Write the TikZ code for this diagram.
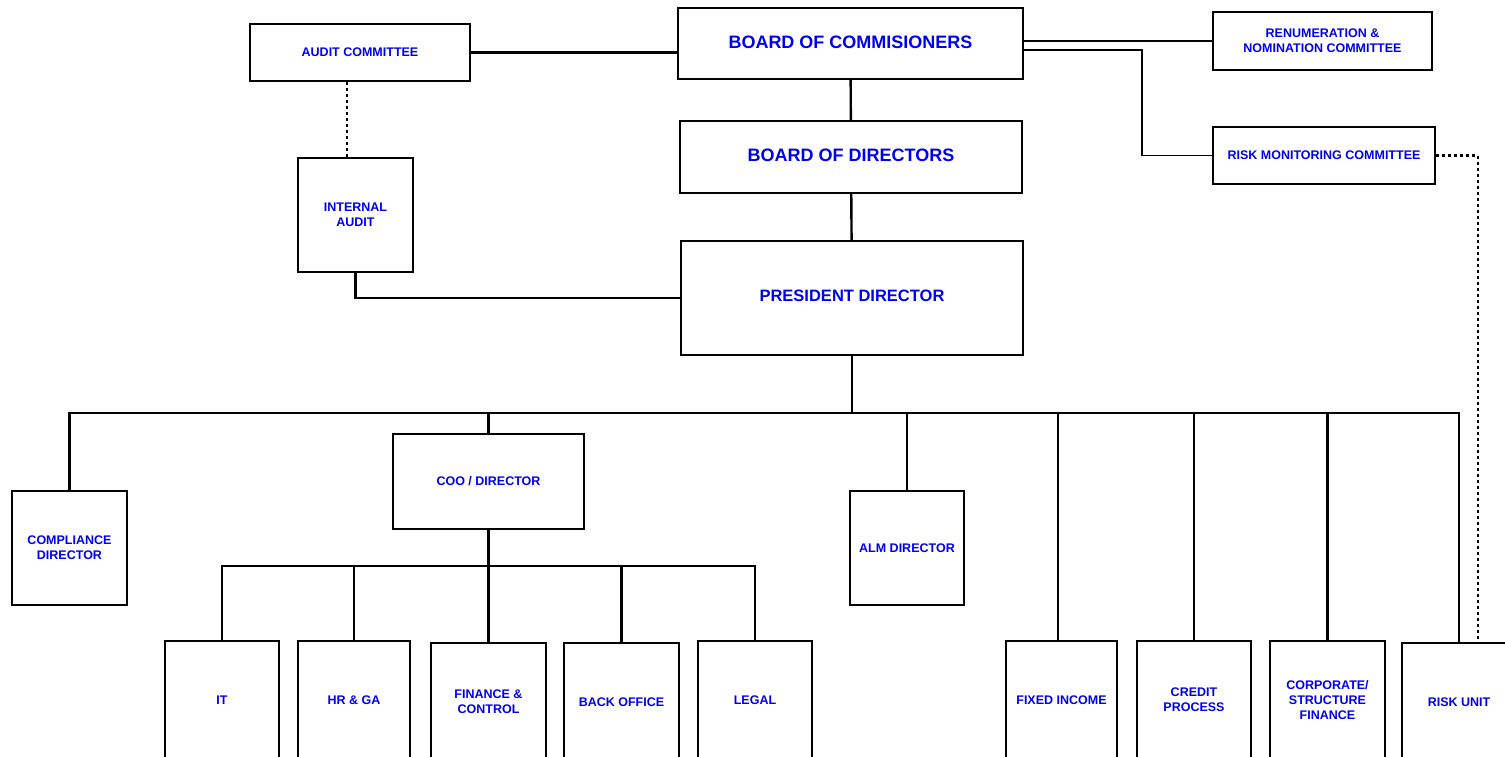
\documentclass[tikz,border=0pt]{standalone}
\usepackage{fontspec}
\setmainfont{Liberation Sans}
\usepackage{xcolor}
\usetikzlibrary{positioning}
\definecolor{orgblue}{RGB}{0,0,240}

\tikzset{
  orgbox/.style={draw, line width=2.4pt, inner sep=0pt, align=center, text=orgblue,
    font=\bfseries\fontsize{12.5}{15}\selectfont},
  bigbox/.style={orgbox, font=\bfseries\fontsize{18}{21}\selectfont},
  unitbox/.style={orgbox, minimum width=114, minimum height=118},
  link/.style={line width=2.4pt},
  thinlink/.style={line width=1.5pt},
  dotlink/.style={line width=2.4pt, dash pattern=on 3pt off 3pt}
}

\begin{document}
\begin{tikzpicture}[x=1pt,y=-1pt]
\useasboundingbox (0,0) rectangle (1505,756);
\clip (0,0) rectangle (1505,756);

% top board and committees
\node[bigbox, minimum width=345, minimum height=71] (boc) at (850.5,43.5) {\raisebox{2.5pt}{BOARD OF COMMISIONERS}};
\node[bigbox, minimum width=342, minimum height=72] (bod) at (851,157) {\raisebox{3pt}{BOARD OF DIRECTORS}};
\node[orgbox, minimum width=342, minimum height=114, font=\bfseries\fontsize{16.5}{19}\selectfont] (pres) at (852,298) {\raisebox{4pt}{PRESIDENT DIRECTOR}};
\node[orgbox, minimum width=220, minimum height=57] (audit) at (360,52.5) {AUDIT COMMITTEE};
\node[orgbox, minimum width=115, minimum height=114] (intaudit) at (355.5,215) {INTERNAL\\AUDIT};
\node[orgbox, minimum width=219, minimum height=58] (renum) at (1322.5,41) {RENUMERATION \&\\NOMINATION COMMITTEE};
\node[orgbox, minimum width=222, minimum height=57] (riskmon) at (1324,155.5) {RISK MONITORING COMMITTEE};

% directors
\node[orgbox, minimum width=115, minimum height=114] (compl) at (69.5,548) {COMPLIANCE\\DIRECTOR};
\node[orgbox, minimum width=191, minimum height=95] (coo) at (488.5,481.5) {COO / DIRECTOR};
\node[orgbox, minimum width=114, minimum height=114] (alm) at (907,548) {ALM DIRECTOR};

% units
\node[unitbox] (it) at (222,700) {IT};
\node[unitbox, minimum width=112] (hrga) at (354,700) {HR \& GA};
\node[unitbox, minimum width=115] (fin) at (488.5,702) {FINANCE \&\\CONTROL};
\node[unitbox, minimum width=115] (back) at (621.5,702) {BACK OFFICE};
\node[unitbox] (legal) at (755,700) {LEGAL};
\node[unitbox, minimum width=111] (fixed) at (1061.5,700) {FIXED INCOME};
\node[unitbox] (credit) at (1194,700) {CREDIT\\PROCESS};
\node[unitbox, minimum width=115] (corp) at (1327.5,700) {CORPORATE/\\STRUCTURE\\FINANCE};
\node[unitbox] (riskunit) at (1459,702) {RISK UNIT};

% board links
\draw[link] (audit.east) -- (audit.east -| boc.west);
\draw[link] (boc) -- (bod);
\draw[link] (bod) -- (pres);
\draw[thinlink] (renum.west) -- (renum.west -| boc.east);
\coordinate (elbow) at (1142,100);
\draw[thinlink] ([yshift=-6.5pt]boc.east) -| (elbow) |- (riskmon.west);
\draw[dotlink] ([xshift=-13pt]audit.south) -- ([xshift=-13pt]audit.south |- intaudit.north);
\draw[link] (intaudit.south) |- (pres.west);
\draw[dotlink] (riskmon.east) -| ([xshift=19pt]riskunit.north);

% director bus
\draw[link] (pres.south) -- ++(0,57) coordinate (bus);
\draw[link] (compl.north) |- (bus) -| (riskunit.north);
\foreach \n in {coo,alm,credit,corp}
  \draw[link] (\n.north) -- (\n.north |- bus);
\draw[link] ([xshift=-3.5pt]fixed.north) -- ([xshift=-3.5pt]fixed.north |- bus);

% coo bus
\draw[link] (coo.south) -- ++(0,36) coordinate (subbus);
\draw[link] (it.north) |- (subbus) -| (legal.north);
\foreach \n in {hrga,fin,back}
  \draw[link] (\n.north) -- (\n.north |- subbus);
\end{tikzpicture}
\end{document}
